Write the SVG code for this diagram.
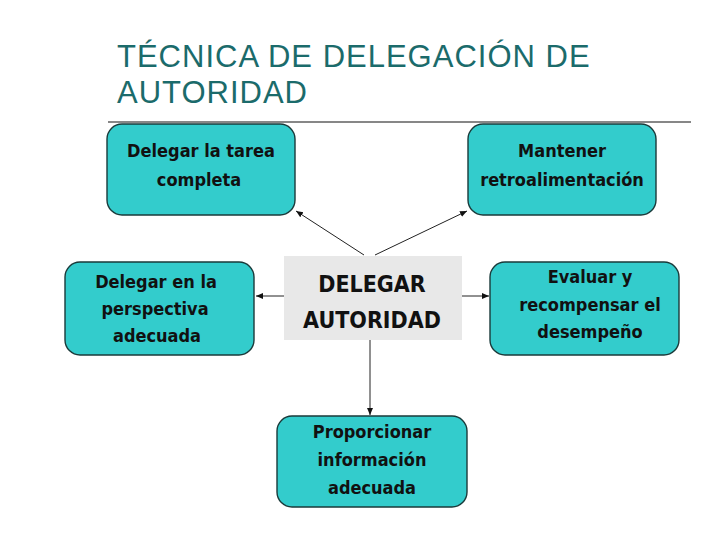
<svg xmlns="http://www.w3.org/2000/svg" width="728" height="546" viewBox="0 0 728 546">
<style>
.node{fill:#33cccc;stroke:#1a3a3a;stroke-width:1.4}
.t{font-family:"DejaVu Sans Condensed","Liberation Sans Narrow","Liberation Sans",sans-serif;font-weight:bold;font-stretch:condensed;font-size:18px;fill:#111;text-anchor:middle}
.c{font-size:23px}
.title{font-family:"Liberation Sans",Arial,sans-serif;font-size:31px;letter-spacing:1px;fill:#1b6b6b}
.conn{stroke:#222;stroke-width:1;fill:none;marker-end:url(#ah)}
</style>
<defs>
<marker id="ah" markerWidth="8" markerHeight="8" refX="7" refY="4" orient="auto" markerUnits="userSpaceOnUse">
<path d="M0,1 L7,4 L0,7 Z" fill="#111"/>
</marker>
</defs>
<rect width="728" height="546" fill="#fff"/>
<g id="title">
<text class="title" x="117" y="67">TÉCNICA DE DELEGACIÓN DE</text>
<text class="title" x="117" y="103">AUTORIDAD</text>
<line x1="108" y1="122" x2="691" y2="122" stroke="#111" stroke-width="1.2"/>
</g>
<g id="connectors">
<line class="conn" x1="364" y1="255" x2="296" y2="211"/>
<line class="conn" x1="375" y1="255" x2="467" y2="211"/>
<line class="conn" x1="284" y1="296" x2="256" y2="296"/>
<line class="conn" x1="462" y1="296" x2="489" y2="296"/>
<line class="conn" x1="370" y1="340" x2="370" y2="415"/>
</g>
<g id="center">
<rect x="284" y="256" width="178" height="84" fill="#e8e8e8"/>
<text class="t c" x="372" y="292">DELEGAR</text>
<text class="t c" x="372" y="328">AUTORIDAD</text>
</g>
<g id="n1">
<rect class="node" x="107" y="124" width="188" height="91" rx="15"/>
<text class="t" x="201" y="157">Delegar la tarea</text>
<text class="t" x="199" y="186">completa</text>
</g>
<g id="n2">
<rect class="node" x="468" y="124" width="188" height="91" rx="15"/>
<text class="t" x="562" y="157">Mantener</text>
<text class="t" x="562" y="186">retroalimentación</text>
</g>
<g id="n3">
<rect class="node" x="65" y="262" width="189" height="93" rx="15"/>
<text class="t" x="156" y="288">Delegar en la</text>
<text class="t" x="155" y="315">perspectiva</text>
<text class="t" x="157" y="342">adecuada</text>
</g>
<g id="n4">
<rect class="node" x="490" y="262" width="189" height="93" rx="15"/>
<text class="t" x="590" y="283">Evaluar y</text>
<text class="t" x="590" y="311">recompensar el</text>
<text class="t" x="590" y="338">desempeño</text>
</g>
<g id="n5">
<rect class="node" x="277" y="416" width="190" height="91" rx="15"/>
<text class="t" x="372" y="438">Proporcionar</text>
<text class="t" x="372" y="466">información</text>
<text class="t" x="372" y="494">adecuada</text>
</g>
</svg>
